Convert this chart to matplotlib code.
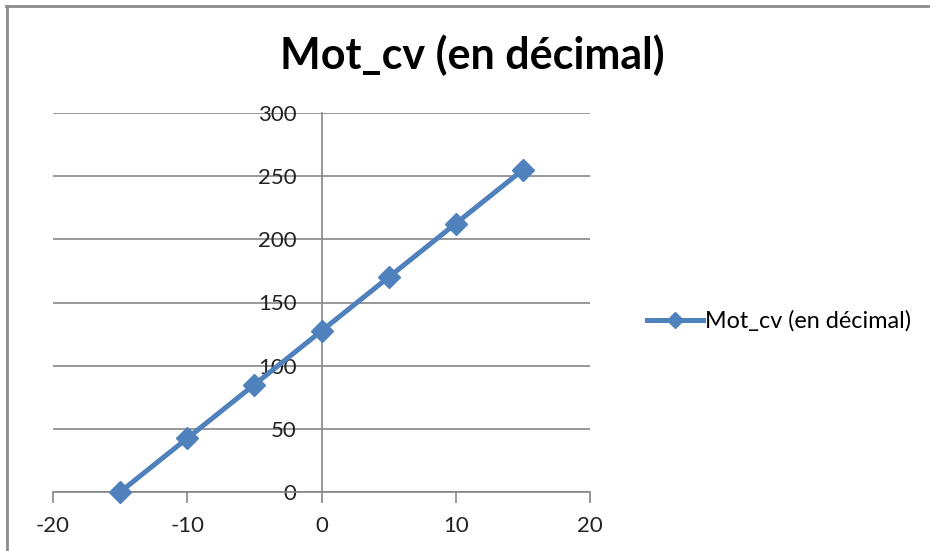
import numpy as np
import matplotlib.pyplot as plt
from matplotlib.lines import Line2D

# ── Data ───────────────────────────────────────────────────────────────────────
x_vals = [-15, -10, -5, 0, 5, 10, 15]
y_vals = [0, 42.5, 85, 127.5, 170, 212.5, 255]
x_ticks = [-20, -10, 0, 10, 20]
y_ticks = [0, 50, 100, 150, 200, 250, 300]
title = "Mot_cv (en décimal)"
series_name = "Mot_cv (en décimal)"

BLUE = "#4F81BD"
GRID = "#868686"

plt.rcParams["font.family"] = ["Lato", "DejaVu Sans"]
plt.rcParams["axes.unicode_minus"] = False

fig = plt.figure(figsize=(9.3, 5.51), dpi=100)
ax = fig.add_axes([53 / 930, 1 - 492 / 551, (590 - 53) / 930, (492 - 113) / 551])

ax.plot(x_vals, y_vals, color=BLUE, lw=3.6, marker="D", ms=11,
        mec=BLUE, mfc=BLUE, label=series_name, clip_on=False, zorder=5)

ax.set_xlim(-20, 20)
ax.set_ylim(0, 300)
ax.set_xticks(x_ticks)
ax.set_yticks(y_ticks)
ax.yaxis.grid(True, color=GRID, lw=1.2)
ax.set_axisbelow(True)

for s in ["top", "right"]:
    ax.spines[s].set_visible(False)
ax.spines["left"].set_position(("data", 0))
ax.spines["left"].set_color(GRID)
ax.spines["bottom"].set_color(GRID)
ax.spines["left"].set_linewidth(1.2)
ax.spines["bottom"].set_linewidth(1.2)

ax.tick_params(axis="x", direction="out", length=8, width=1.2, color=GRID,
               labelsize=16, pad=9, labelcolor="#222222")
ax.tick_params(axis="y", direction="out", length=0, labelsize=16, pad=18,
               labelcolor="#222222")

fig.text(472 / 930, 1 - 55 / 551, title, ha="center", va="center",
         fontsize=31, fontweight="bold", color="black")

handle = Line2D([], [], color=BLUE, lw=3.6, marker="D", ms=8, mec=BLUE, mfc=BLUE)
fig.legend([handle], [series_name], loc="center left",
           bbox_to_anchor=(626 / 930, 1 - 321 / 551), frameon=False,
           fontsize=16.8, handlelength=2.4, handletextpad=0.1)

# figure border (top and left edges visible)
fig.add_artist(Line2D([6 / 930, 1], [1 - 6 / 551, 1 - 6 / 551], color="#8c8c8c",
                      lw=2, transform=fig.transFigure))
fig.add_artist(Line2D([7 / 930, 7 / 930], [0, 1 - 6 / 551], color="#8c8c8c",
                      lw=2, transform=fig.transFigure))

fig.savefig("out.png", dpi=100)
